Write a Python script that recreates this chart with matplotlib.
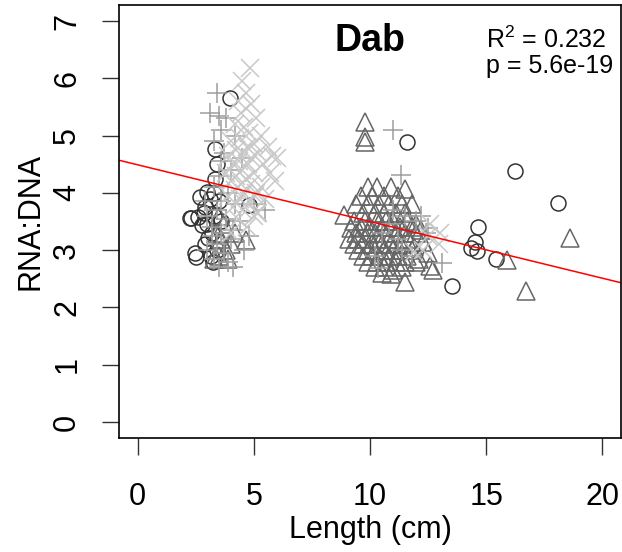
import matplotlib
matplotlib.use("Agg")
import matplotlib.pyplot as plt

plt.rcParams['font.family'] = ['Liberation Sans', 'DejaVu Sans']
plt.rcParams['mathtext.fontset'] = 'custom'
plt.rcParams['mathtext.rm'] = 'Liberation Sans'

# circles (dark)
circle_len = [3.99, 3.35, 3.42, 3.35, 2.99, 2.70, 2.27, 2.62, 2.78, 2.49, 3.05, 3.26,
              4.78, 2.92, 3.10, 3.30, 3.00, 3.20, 2.90, 3.40, 3.15, 3.50, 2.85, 3.30,
              3.60, 2.53, 2.32,
              11.59, 16.22, 18.11, 14.64, 14.53, 14.34, 14.62, 15.41, 13.52]
circle_ratio = [5.66, 4.77, 4.51, 4.25, 4.02, 3.93, 3.56, 3.58, 3.44, 2.95, 3.21, 2.80,
                3.78, 3.76, 3.90, 3.60, 3.45, 3.30, 3.10, 3.00, 2.90, 3.85, 3.65, 4.00,
                3.50, 2.88, 3.56,
                4.88, 4.39, 3.82, 3.40, 3.14, 3.03, 2.98, 2.84, 2.37]

# triangles (mid grey)
tri_len = [4.68, 3.80, 3.50, 3.30, 3.60, 4.00, 3.40, 3.70, 3.90, 3.50, 4.20,
           9.8, 9.8, 9.8,
           9.9, 10.3, 10.9, 11.5,
           9.6, 10.1, 10.6, 11.2,
           9.4, 9.9, 10.4, 10.8, 11.4, 11.8,
           8.9, 9.7, 10.2, 10.6, 11.1, 11.5,
           9.3, 9.8, 10.3, 10.7, 11.0, 11.6, 12.0,
           9.2, 9.6, 10.0, 10.5, 10.9, 11.3, 11.8, 12.2,
           9.4, 9.9, 10.2, 10.6, 11.1, 11.5, 12.0,
           9.1, 9.5, 9.8, 10.3, 10.8, 11.2, 11.7, 12.3,
           9.3, 9.7, 10.1, 10.5, 10.9, 11.4, 11.9,
           9.5, 9.9, 10.2, 10.6, 11.0, 11.3, 11.8, 12.5,
           9.7, 10.1, 10.4, 10.8, 11.2, 11.6, 12.1,
           9.9, 10.3, 10.7, 11.1, 11.5, 12.0, 12.6,
           10.2, 10.6, 11.0, 11.4, 12.7,
           10.5, 10.9, 11.5,
           15.9, 16.7, 18.6]
tri_ratio = [3.18, 3.00, 2.90, 2.85, 3.20, 3.10, 3.30, 3.45, 2.85, 3.60, 3.30,
             5.23, 4.97, 4.88,
             4.10, 4.10, 4.10, 4.07,
             3.95, 3.95, 3.95, 3.95,
             3.80, 3.80, 3.80, 3.80, 3.80, 3.80,
             3.62, 3.65, 3.65, 3.65, 3.65, 3.65,
             3.50, 3.50, 3.50, 3.50, 3.50, 3.50, 3.45,
             3.38, 3.40, 3.40, 3.40, 3.40, 3.40, 3.40, 3.35,
             3.30, 3.30, 3.30, 3.30, 3.30, 3.30, 3.30,
             3.20, 3.20, 3.20, 3.20, 3.20, 3.20, 3.20, 3.15,
             3.10, 3.10, 3.10, 3.10, 3.10, 3.10, 3.05,
             3.00, 3.00, 3.00, 3.00, 3.00, 3.00, 3.00, 2.95,
             2.90, 2.90, 2.90, 2.90, 2.90, 2.90, 2.85,
             2.80, 2.80, 2.80, 2.80, 2.80, 2.80, 2.72,
             2.70, 2.70, 2.66, 2.70, 2.65,
             2.60, 2.58, 2.45,
             2.83, 2.28, 3.21]

# plus signs (light grey)
plus_len = [3.42, 3.13, 3.50, 3.80, 3.60, 3.30, 3.70, 4.20, 4.00, 3.50, 3.30, 3.90,
            3.60, 4.20, 3.40, 3.00, 3.80, 4.40, 3.20, 3.60, 4.00, 3.40, 3.00, 3.70,
            3.30, 3.90, 3.50, 4.60, 4.10, 2.90, 4.50, 5.50, 4.80, 3.20, 3.60, 5.00,
            4.10,
            10.99, 11.32, 11.0, 11.5, 10.5, 11.2, 12.0, 12.4, 13.1, 11.8, 10.2, 11.4,
            12.2, 10.8, 12.5, 10.35]
plus_ratio = [5.75, 5.40, 5.35, 5.30, 5.10, 4.90, 4.70, 5.00, 4.40, 4.30, 4.10, 4.00,
              3.85, 3.80, 3.70, 3.60, 3.55, 3.50, 3.40, 3.30, 3.20, 3.10, 3.00, 2.95,
              2.85, 2.80, 2.70, 3.00, 3.35, 3.85, 4.60, 3.70, 3.25, 3.25, 4.55, 3.80,
              2.70,
              5.09, 4.32, 3.70, 3.60, 3.30, 3.20, 3.50, 3.30, 2.78, 2.90, 2.90, 3.00,
              3.60, 3.45, 3.38, 2.69]

# crosses (lightest grey)
cross_len = [4.85, 4.50, 4.65, 4.30, 4.90, 4.45, 5.10, 4.20, 4.60, 4.80, 5.30, 4.40,
             4.00, 5.00, 4.70, 5.60, 4.25, 4.55, 5.20, 3.90, 4.90, 5.80, 4.35, 4.10,
             4.75, 5.40, 4.50, 5.00, 3.80, 4.25, 4.65, 5.70, 4.00, 4.45, 4.90, 5.30,
             4.20, 4.60, 5.05, 3.90, 4.40, 4.80, 5.50, 4.10, 4.55, 5.00, 4.30, 5.20,
             6.00, 5.90, 4.70, 5.10, 4.00, 5.14,
             12.96, 11.9, 12.5, 12.3, 13.0, 12.6]
cross_ratio = [6.18, 5.95, 5.75, 5.60, 5.55, 5.40, 5.30, 5.20, 5.15, 5.05, 5.00, 4.95,
               4.90, 4.85, 4.80, 4.80, 4.75, 4.70, 4.70, 4.65, 4.60, 4.65, 4.55, 4.50,
               4.50, 4.50, 4.40, 4.35, 4.35, 4.30, 4.25, 4.35, 4.20, 4.15, 4.15, 4.10,
               4.05, 4.00, 3.95, 3.95, 3.90, 3.85, 3.90, 3.75, 3.70, 3.60, 3.55, 3.65,
               4.60, 4.20, 3.40, 4.00, 3.30, 3.65,
               3.11, 2.97, 3.25, 3.00, 3.30, 3.45]

fit_intercept = 4.49
fit_slope = -0.099
r_squared = 0.232
p_value = "5.6e-19"

fig = plt.figure(figsize=(6.22, 5.52), dpi=100)
ax = fig.add_axes([0.1913, 0.2065, 0.807, 0.7845])

ax.plot(circle_len, circle_ratio, 'o', ls='none', mfc='none', mec='#333333', ms=10.8, mew=1.1)
ax.plot(tri_len, tri_ratio, '^', ls='none', mfc='none', mec='#666666', ms=12.5, mew=1.1)
ax.plot(plus_len, plus_ratio, '+', ls='none', mec='#9e9e9e', ms=14, mew=1.1)
ax.plot(cross_len, cross_ratio, 'x', ls='none', mec='#c8c8c8', ms=13, mew=1.1)

ax.axline((0, fit_intercept), slope=fit_slope, color='red', lw=1.1)

ax.set_xlim(-0.8, 20.8)
ax.set_ylim(-0.28, 7.28)
ax.set_xticks([0, 5, 10, 15, 20])
ax.set_yticks(range(8))
ax.tick_params(axis='both', labelsize=22, length=12.5, width=1, color='#333333')
ax.tick_params(axis='x', pad=19)
ax.tick_params(axis='y', pad=14)
for lab in ax.get_yticklabels():
    lab.set_rotation(90)
    lab.set_va('center')
ax.set_xlabel("Length (cm)", fontsize=22, labelpad=2)
ax.set_ylabel("RNA:DNA", fontsize=22, labelpad=5)
for s in ax.spines.values():
    s.set_linewidth(1.2)

ax.text(10.0, 6.65, "Dab", fontsize=27, fontweight='bold', ha='center', va='center')
ax.text(15.0, 6.53, f"$\\mathrm{{R}}^{{2}}$ = {r_squared}", fontsize=18, ha='left', va='baseline')
ax.text(15.0, 6.09, f"p = {p_value}", fontsize=18, ha='left', va='baseline')

fig.savefig("out.png", dpi=100)
